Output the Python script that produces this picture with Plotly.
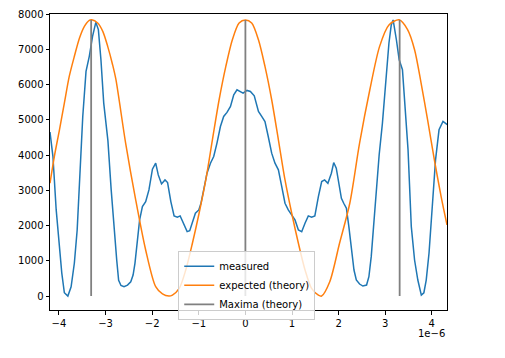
import plotly.graph_objects as go

SCALE = 1e-6

# measured series (x in units of 1e-6)
meas_x = [-4.193, -4.13, -4.06, -3.99, -3.94, -3.885, -3.81, -3.74, -3.67, -3.61, -3.56, -3.49, -3.42,
          -3.35, -3.28, -3.21, -3.155, -3.10, -3.04, -2.95, -2.88, -2.82, -2.76, -2.72, -2.67, -2.605,
          -2.53, -2.46, -2.41, -2.37, -2.32, -2.27, -2.21, -2.14, -2.07, -1.995, -1.925, -1.87, -1.80,
          -1.725, -1.67, -1.60, -1.53, -1.46, -1.40, -1.35, -1.28, -1.25, -1.195, -1.124, -1.073, -1.00,
          -0.953, -0.895, -0.824, -0.75, -0.68, -0.61, -0.536, -0.466, -0.395, -0.32, -0.25, -0.18,
          -0.122, -0.05, 0.034, 0.107, 0.19, 0.28, 0.35, 0.42, 0.49, 0.564, 0.635, 0.708, 0.78, 0.85,
          0.92, 0.994, 1.064, 1.137, 1.208, 1.279, 1.35, 1.42, 1.49, 1.566, 1.637, 1.70, 1.77, 1.845,
          1.895, 1.95, 2.01, 2.06, 2.11, 2.167, 2.22, 2.275, 2.33, 2.38, 2.45, 2.52, 2.60, 2.65, 2.70,
          2.75, 2.81, 2.87, 2.94, 3.01, 3.08, 3.13, 3.17, 3.24, 3.30, 3.37, 3.42, 3.49, 3.56, 3.63, 3.70,
          3.775, 3.83, 3.88, 3.94, 4.01, 4.08, 4.155, 4.24, 4.31, 4.326]
meas_y = [4650, 3957, 2443, 1307, 653, 94, 0, 264, 937, 1875, 3390, 5094, 6372,
          6800, 7367, 7764, 7557, 6704, 5474, 4400, 3011, 1900, 1000, 450, 300, 265,
          312, 406, 597, 929, 1497, 2159, 2537, 2679, 3011, 3598, 3769, 3437, 3182,
          3295, 3220, 2679, 2273, 2235, 2273, 2111, 1875, 1827, 1855, 2159, 2348, 2443,
          2633, 3011, 3485, 3769, 3957, 4338, 4810, 5094, 5208, 5378, 5710, 5852,
          5804, 5758, 5832, 5804, 5680, 5236, 5094, 4952, 4526, 4054, 3769, 3580, 3105, 2633,
          2443, 2301, 2159, 1875, 1827, 2065, 2273, 2235, 2273, 2821, 3248, 3295, 3200, 3485,
          3787, 3627, 3105, 2774, 2633, 2491, 1970, 1307, 739, 455, 341, 284, 312, 549, 1118,
          1970, 3105, 4000, 4900, 6042, 7170, 7690, 7830, 7270, 6700, 6420, 5568, 4148, 1970, 1023, 455,
          28, 94, 455, 1213, 2537, 3863, 4716, 4952, 4886, 4860]

# expected (theory) series
theo_x = [-4.193, -4.10, -3.99, -3.885, -3.78, -3.67, -3.56, -3.455, -3.35, -3.30, -3.17, -3.06, -2.955,
          -2.85, -2.78, -2.57, -2.354, -2.14, -1.925, -1.78, -1.64, -1.566, -1.42, -1.28, -1.137, -0.994,
          -0.85, -0.708, -0.564, -0.42, -0.28, -0.135, 0.0, 0.135, 0.28, 0.42, 0.564, 0.708, 0.85, 0.994,
          1.137, 1.28, 1.42, 1.566, 1.635, 1.81, 2.02, 2.24, 2.45, 2.67, 2.88, 3.08, 3.30, 3.48, 3.63,
          3.77, 3.91, 4.055, 4.20, 4.326]
theo_y = [3200, 3957, 4716, 5474, 6230, 6800, 7320, 7650, 7821, 7835, 7746, 7508, 7082,
          6562, 6150, 4338, 2727, 1307, 265, 60, 0, 28, 218, 739, 1497, 2348,
          3295, 4432, 5568, 6514, 7270, 7746, 7830, 7746, 7270, 6514, 5568, 4432, 3295, 2348,
          1497, 739, 218, 28, 0, 406, 1497, 2633, 4338, 5852, 7082, 7690, 7835, 7557, 6988,
          6042, 5000, 3863, 2821, 2017]

# maxima (theory)
maxima_x = [-3.31, 0.0, 3.31]
maxima_height = 7830

x_ticks = [-4, -3, -2, -1, 0, 1, 2, 3, 4]
x_ticktext = ["\u22124", "\u22123", "\u22122", "\u22121", "0", "1", "2", "3", "4"]
y_ticks = [0, 1000, 2000, 3000, 4000, 5000, 6000, 7000, 8000]

vx, vy = [], []
for m in maxima_x:
    vx += [m * SCALE, m * SCALE, None]
    vy += [0, maxima_height, None]

fig = go.Figure()
fig.add_trace(go.Scatter(x=[v * SCALE for v in meas_x], y=meas_y, mode="lines",
                         name="measured", line=dict(color="#1f77b4", width=1.5)))
fig.add_trace(go.Scatter(x=[v * SCALE for v in theo_x], y=theo_y, mode="lines",
                         name="expected (theory)",
                         line=dict(color="#ff7f0e", width=1.5, shape="spline", smoothing=0.8)))
fig.add_trace(go.Scatter(x=vx, y=vy, mode="lines", name="Maxima (theory)",
                         line=dict(color="#808080", width=1.8)))

axis_common = dict(showline=True, linecolor="black", linewidth=1, mirror=True,
                   ticks="outside", ticklen=3.5, tickwidth=0.8, tickcolor="black",
                   showgrid=False, zeroline=False, automargin=False,
                   tickfont=dict(family="DejaVu Sans", size=10, color="black"))

fig.update_xaxes(range=[-4.193e-6, 4.326e-6], tickvals=[t * SCALE for t in x_ticks],
                 ticktext=x_ticktext, **axis_common)
fig.update_yaxes(range=[-395, 8000], tickvals=y_ticks, **axis_common)

fig.add_annotation(text="1e\u22126", xref="paper", yref="paper", x=1.0, y=-0.055,
                   xanchor="right", yanchor="top", showarrow=False,
                   font=dict(family="DejaVu Sans", size=10, color="black"))

fig.update_layout(
    width=497, height=350,
    margin=dict(l=42, r=58, t=6, b=48),
    paper_bgcolor="white", plot_bgcolor="white",
    font=dict(family="DejaVu Sans", size=10, color="black"),
    legend=dict(x=0.323, y=0.2, xanchor="left", yanchor="top",
                bgcolor="rgba(255,255,255,0.8)", bordercolor="#cccccc", borderwidth=1,
                font=dict(family="DejaVu Sans", size=10), tracegroupgap=0,
                itemwidth=30),
    showlegend=True,
)

fig.write_html("out.html")
